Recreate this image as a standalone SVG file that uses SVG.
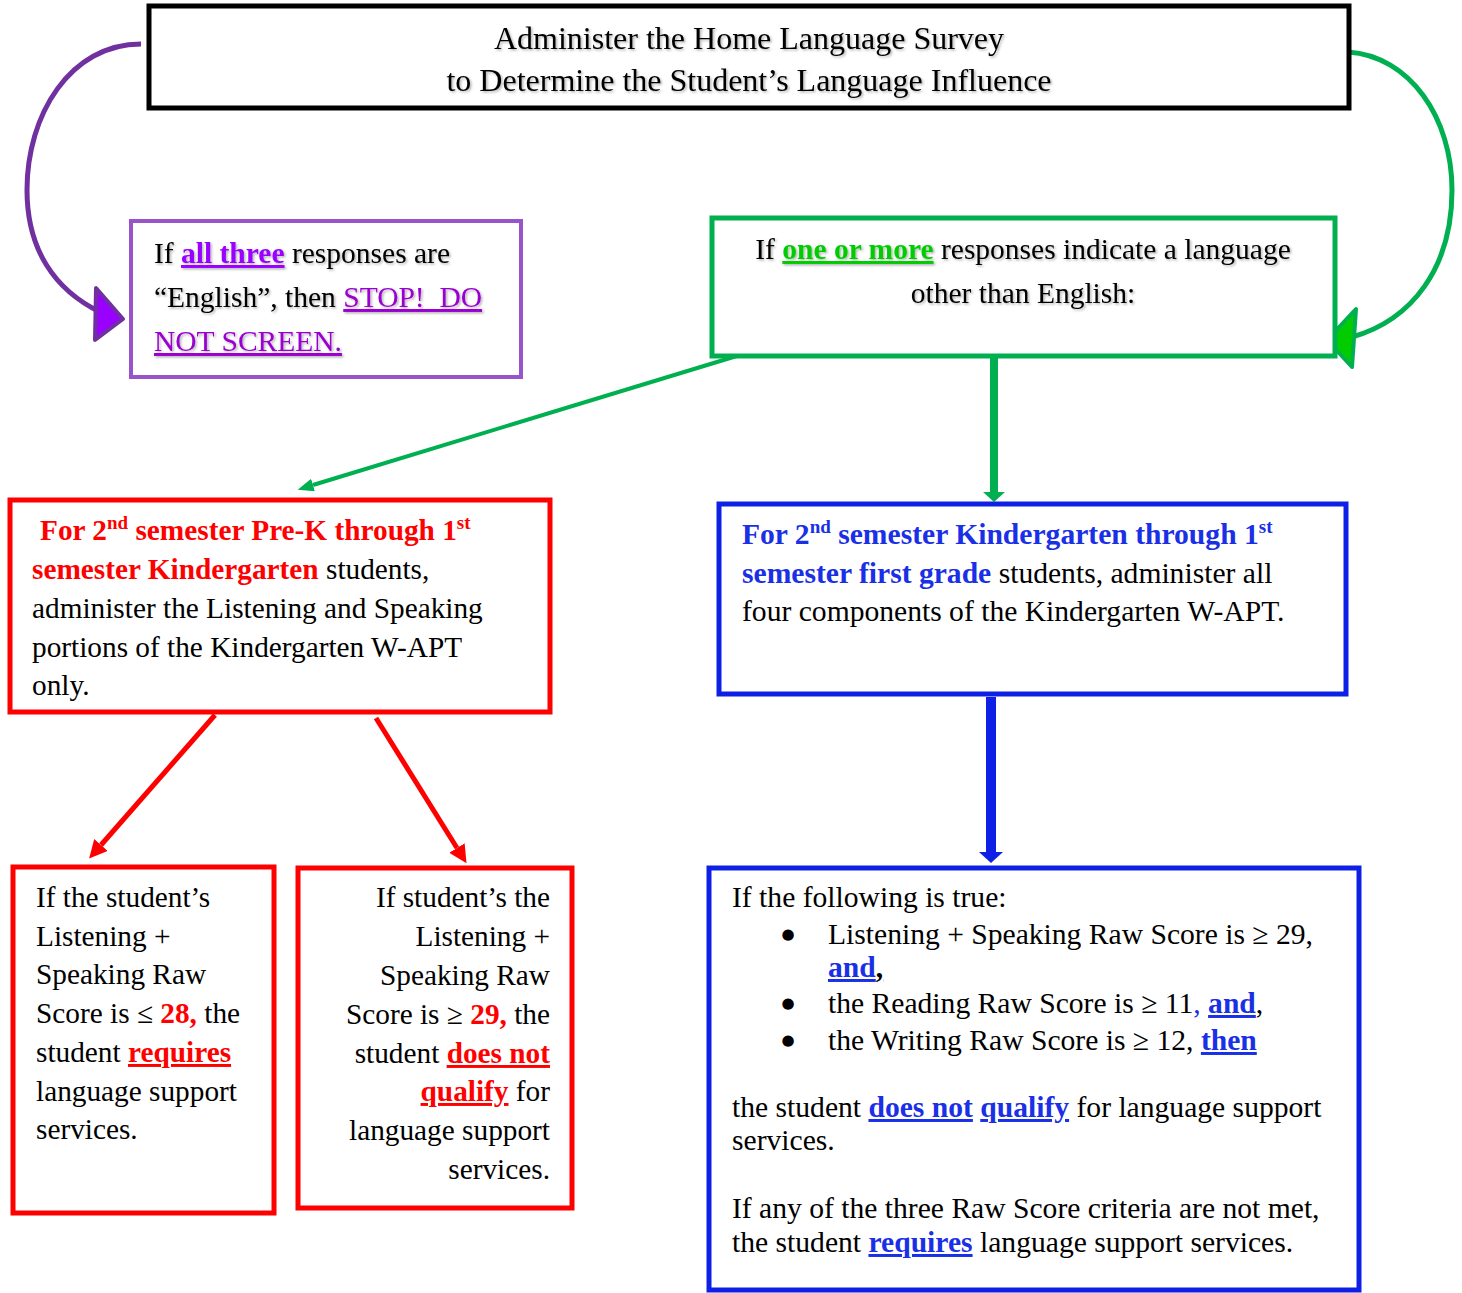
<svg xmlns="http://www.w3.org/2000/svg" width="1462" height="1293" viewBox="0 0 1462 1293">
<style>
text{font-family:"Liberation Serif","Times New Roman",serif;font-size:29.3px;fill:#000}
.box{fill:#fff}
.b{font-weight:bold}
.u{text-decoration:underline}
.red{fill:#ff0000}
.blu{fill:#1a30e6}
.sup{font-size:19px}
text.bul{font-family:"DejaVu Sans",sans-serif;font-size:15px}
.sh{filter:url(#ts)}
</style>
<defs>
<filter id="ts" x="-5%" y="-20%" width="110%" height="150%"><feDropShadow dx="1.5" dy="1.5" stdDeviation="1" flood-color="#000" flood-opacity="0.3"/></filter>
<marker id="mg" markerUnits="userSpaceOnUse" markerWidth="17" markerHeight="13" refX="0" refY="6.5" orient="auto"><path d="M0,0 L16,6.5 L0,13 z" fill="#00b050"/></marker>
<marker id="mgv" markerUnits="userSpaceOnUse" markerWidth="11" markerHeight="22" refX="0" refY="11" orient="auto"><path d="M0,0 L10,11 L0,22 z" fill="#00b050"/></marker>
<marker id="mr" markerUnits="userSpaceOnUse" markerWidth="19" markerHeight="18" refX="0" refY="9" orient="auto"><path d="M0,0 L18,9 L0,18 z" fill="#ff0000"/></marker>
<marker id="mb" markerUnits="userSpaceOnUse" markerWidth="12" markerHeight="24" refX="0" refY="12" orient="auto"><path d="M0,0 L11,12 L0,24 z" fill="#0f20e6"/></marker>
</defs>
<rect width="1462" height="1293" fill="#fff"/>

<g id="connectors" fill="none">
<path d="M141,44 C 70,44 27,115 27,190 C 27,250 55,290 100,312" stroke="#7030a0" stroke-width="5"/>
<polygon points="96,288 95,340 123,319" fill="#9900ff" stroke="#7030a0" stroke-width="4" stroke-linejoin="round"/>
<path d="M1348,52 C 1410,56 1452,118 1452,190 C 1452,268 1412,320 1352,337" stroke="#00b050" stroke-width="5"/>
<polygon points="1356,309 1352,367 1327,340" fill="#00cc00" stroke="#00b050" stroke-width="4" stroke-linejoin="round"/>
<line x1="740" y1="355" x2="313" y2="485" stroke="#00b050" stroke-width="4" marker-end="url(#mg)"/>
<line x1="994" y1="358" x2="994" y2="492" stroke="#00b050" stroke-width="8" marker-end="url(#mgv)"/>
<line x1="215" y1="715" x2="101" y2="845" stroke="#ff0000" stroke-width="5" marker-end="url(#mr)"/>
<line x1="376" y1="718" x2="457" y2="848" stroke="#ff0000" stroke-width="5" marker-end="url(#mr)"/>
<line x1="991" y1="697" x2="991" y2="852" stroke="#0f20e6" stroke-width="10" marker-end="url(#mb)"/>
</g>

<g id="survey">
<rect class="box" x="149" y="6" width="1200" height="102" stroke="#000" stroke-width="5"/>
<text class="sh" x="749" y="49" text-anchor="middle" style="font-size:32px">Administer the Home Language Survey</text>
<text class="sh" x="749" y="91" text-anchor="middle" style="font-size:32px">to Determine the Student’s Language Influence</text>
</g>

<g id="english-only">
<rect class="box" x="131" y="221" width="390" height="156" stroke="#9954cc" stroke-width="4"/>
<text class="sh" x="154" y="263" style="font-size:29.5px">If <tspan class="b u" fill="#9900ff">all three</tspan> responses are</text>
<text class="sh" x="154" y="307" style="font-size:29.5px">“English”, then <tspan class="u" fill="#9a00d0">STOP!&#160; DO</tspan></text>
<text class="sh" x="154" y="351" style="font-size:29.5px"><tspan class="u" fill="#9a00d0">NOT SCREEN.</tspan></text>
</g>

<g id="other-language">
<rect class="box" x="712" y="218" width="623" height="138" stroke="#00b050" stroke-width="5"/>
<text class="sh" x="1023" y="259" text-anchor="middle" style="font-size:29.5px">If <tspan class="b u" fill="#00cc00">one or more</tspan> responses indicate a language</text>
<text class="sh" x="1023" y="303" text-anchor="middle" style="font-size:29.5px">other than English:</text>
</g>

<g id="prek">
<rect class="box" x="10" y="500" width="540" height="212" stroke="#ff0000" stroke-width="5"/>
<text x="40" y="540" class="b red">For 2<tspan class="sup" dy="-11">nd</tspan><tspan dy="11"> semester Pre-K through 1</tspan><tspan class="sup" dy="-11">st</tspan></text>
<text x="32" y="579"><tspan class="b red">semester Kindergarten</tspan> students,</text>
<text x="32" y="618">administer the Listening and Speaking</text>
<text x="32" y="657">portions of the Kindergarten W-APT</text>
<text x="32" y="695">only.</text>
</g>

<g id="kinder">
<rect class="box" x="719" y="504" width="627" height="190" stroke="#0f20e6" stroke-width="5"/>
<text x="742" y="544" class="b blu" style="font-size:29.6px">For 2<tspan class="sup" dy="-11">nd</tspan><tspan dy="11"> semester Kindergarten through 1</tspan><tspan class="sup" dy="-11">st</tspan></text>
<text x="742" y="583" style="font-size:29.6px"><tspan class="b blu">semester first grade</tspan> students, administer all</text>
<text x="742" y="621" style="font-size:29.6px">four components of the Kindergarten W-APT.</text>
</g>

<g id="requires">
<rect class="box" x="13" y="867" width="261" height="346" stroke="#ff0000" stroke-width="5"/>
<text x="36" y="907">If the student’s</text>
<text x="36" y="946">Listening +</text>
<text x="36" y="984">Speaking Raw</text>
<text x="36" y="1023">Score is ≤ <tspan class="b red">28,</tspan> the</text>
<text x="36" y="1062">student <tspan class="b red u">requires</tspan></text>
<text x="36" y="1101">language support</text>
<text x="36" y="1139">services.</text>
</g>

<g id="not-qualify">
<rect class="box" x="298" y="868" width="274" height="340" stroke="#ff0000" stroke-width="5"/>
<text x="550" y="907" text-anchor="end">If student’s the</text>
<text x="550" y="946" text-anchor="end">Listening +</text>
<text x="550" y="985" text-anchor="end">Speaking Raw</text>
<text x="550" y="1024" text-anchor="end">Score is ≥ <tspan class="b red">29,</tspan> the</text>
<text x="550" y="1063" text-anchor="end">student <tspan class="b red u">does not</tspan></text>
<text x="550" y="1101" text-anchor="end"><tspan class="b red u">qualify</tspan> for</text>
<text x="550" y="1140" text-anchor="end">language support</text>
<text x="550" y="1179" text-anchor="end">services.</text>
</g>

<g id="criteria">
<rect class="box" x="709" y="868" width="650" height="422" stroke="#0f20e6" stroke-width="5"/>
<text x="732" y="907" style="font-size:29.6px">If the following is true:</text>
<text class="bul" x="788" y="939" text-anchor="middle">●</text>
<text x="828" y="944" style="font-size:29.6px">Listening + Speaking Raw Score is ≥ 29,</text>
<text x="828" y="977" style="font-size:29.6px"><tspan class="b blu u">and</tspan><tspan class="b u">,</tspan></text>
<text class="bul" x="788" y="1008" text-anchor="middle">●</text>
<text x="828" y="1013" style="font-size:29.6px">the Reading Raw Score is ≥ 11<tspan class="blu">, </tspan><tspan class="b blu u">and</tspan>,</text>
<text class="bul" x="788" y="1045" text-anchor="middle">●</text>
<text x="828" y="1050" style="font-size:29.6px">the Writing Raw Score is ≥ 12, <tspan class="b blu u">then</tspan></text>
<text x="732" y="1117" style="font-size:29.6px">the student <tspan class="b blu u">does not</tspan> <tspan class="b blu u">qualify</tspan> for language support</text>
<text x="732" y="1150" style="font-size:29.6px">services.</text>
<text x="732" y="1218" style="font-size:29.6px">If any of the three Raw Score criteria are not met,</text>
<text x="732" y="1252" style="font-size:29.6px">the student <tspan class="b blu u">requires</tspan> language support services.</text>
</g>
</svg>
